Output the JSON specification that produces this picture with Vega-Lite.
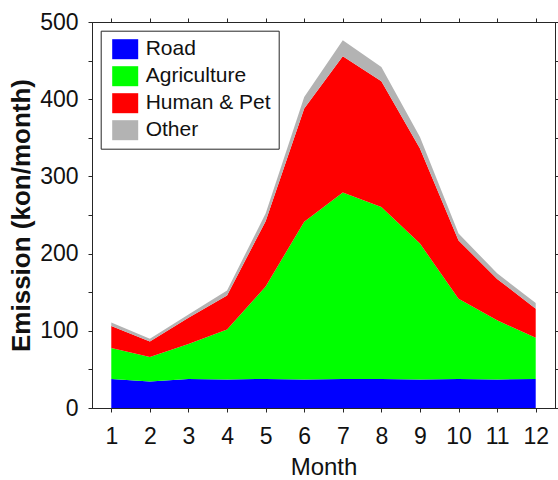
{
  "$schema": "https://vega.github.io/schema/vega-lite/v6.json",
  "width": 463,
  "height": 386,
  "autosize": {"type": "none"},
  "padding": {"left": 92, "top": 22, "right": 3, "bottom": 72},
  "background": "white",
  "data": {
    "values": [
      {"month": 1, "source": "Road", "k": 1, "value": 37.7},
      {"month": 2, "source": "Road", "k": 1, "value": 34.3},
      {"month": 3, "source": "Road", "k": 1, "value": 37.7},
      {"month": 4, "source": "Road", "k": 1, "value": 36.9},
      {"month": 5, "source": "Road", "k": 1, "value": 37.7},
      {"month": 6, "source": "Road", "k": 1, "value": 36.9},
      {"month": 7, "source": "Road", "k": 1, "value": 37.7},
      {"month": 8, "source": "Road", "k": 1, "value": 37.7},
      {"month": 9, "source": "Road", "k": 1, "value": 36.9},
      {"month": 10, "source": "Road", "k": 1, "value": 37.7},
      {"month": 11, "source": "Road", "k": 1, "value": 36.9},
      {"month": 12, "source": "Road", "k": 1, "value": 37.7},
      {"month": 1, "source": "Agriculture", "k": 2, "value": 39.9},
      {"month": 2, "source": "Agriculture", "k": 2, "value": 31.7},
      {"month": 3, "source": "Agriculture", "k": 2, "value": 45.1},
      {"month": 4, "source": "Agriculture", "k": 2, "value": 64.7},
      {"month": 5, "source": "Agriculture", "k": 2, "value": 119.7},
      {"month": 6, "source": "Agriculture", "k": 2, "value": 204.5},
      {"month": 7, "source": "Agriculture", "k": 2, "value": 241.6},
      {"month": 8, "source": "Agriculture", "k": 2, "value": 222.6},
      {"month": 9, "source": "Agriculture", "k": 2, "value": 176.2},
      {"month": 10, "source": "Agriculture", "k": 2, "value": 103.8},
      {"month": 11, "source": "Agriculture", "k": 2, "value": 76.7},
      {"month": 12, "source": "Agriculture", "k": 2, "value": 53.2},
      {"month": 1, "source": "Human & Pet", "k": 3, "value": 28.7},
      {"month": 2, "source": "Human & Pet", "k": 3, "value": 20.2},
      {"month": 3, "source": "Human & Pet", "k": 3, "value": 34.2},
      {"month": 4, "source": "Human & Pet", "k": 3, "value": 44.2},
      {"month": 5, "source": "Human & Pet", "k": 3, "value": 84.6},
      {"month": 6, "source": "Human & Pet", "k": 3, "value": 146.6},
      {"month": 7, "source": "Human & Pet", "k": 3, "value": 176.3},
      {"month": 8, "source": "Human & Pet", "k": 3, "value": 163.0},
      {"month": 9, "source": "Human & Pet", "k": 3, "value": 122.9},
      {"month": 10, "source": "Human & Pet", "k": 3, "value": 75.5},
      {"month": 11, "source": "Human & Pet", "k": 3, "value": 53.6},
      {"month": 12, "source": "Human & Pet", "k": 3, "value": 37.7},
      {"month": 1, "source": "Other", "k": 4, "value": 4.3},
      {"month": 2, "source": "Other", "k": 4, "value": 3.4},
      {"month": 3, "source": "Other", "k": 4, "value": 4.0},
      {"month": 4, "source": "Other", "k": 4, "value": 6.4},
      {"month": 5, "source": "Other", "k": 4, "value": 10.0},
      {"month": 6, "source": "Other", "k": 4, "value": 15.0},
      {"month": 7, "source": "Other", "k": 4, "value": 20.7},
      {"month": 8, "source": "Other", "k": 4, "value": 18.5},
      {"month": 9, "source": "Other", "k": 4, "value": 15.0},
      {"month": 10, "source": "Other", "k": 4, "value": 9.0},
      {"month": 11, "source": "Other", "k": 4, "value": 7.3},
      {"month": 12, "source": "Other", "k": 4, "value": 7.3}
    ]
  },
  "layer": [
    {
      "mark": {"type": "area", "interpolate": "linear", "opacity": 1},
      "encoding": {
        "x": {
          "field": "month",
          "type": "quantitative",
          "scale": {"domain": [0.5, 12.5], "nice": false, "zero": false},
          "axis": {
            "values": [1, 2, 3, 4, 5, 6, 7, 8, 9, 10, 11, 12],
            "title": "Month",
            "titleFontSize": 24,
            "labelPadding": 13,
            "titlePadding": 7,
            "labelFlush": false,
            "labelOverlap": false
          }
        },
        "y": {
          "field": "value",
          "type": "quantitative",
          "stack": "zero",
          "scale": {"domain": [0, 500], "nice": false},
          "axis": {
            "values": [0, 50, 100, 150, 200, 250, 300, 350, 400, 450, 500],
            "labelExpr": "datum.value % 100 == 0 ? datum.label : ''",
            "title": "Emission (kon/month)",
            "titleFontSize": 26,
            "titleFontWeight": "bold",
            "labelPadding": 10,
            "titlePadding": 5,
            "labelOverlap": false
          }
        },
        "color": {
          "field": "source",
          "type": "nominal",
          "scale": {
            "domain": ["Road", "Agriculture", "Human & Pet", "Other"],
            "range": ["#0000ff", "#00ff00", "#ff0000", "#b3b3b3"]
          },
          "legend": {
            "orient": "none",
            "legendX": 8.7,
            "legendY": 8.7,
            "title": null
          }
        },
        "order": {"field": "k", "type": "quantitative"}
      }
    },
    {
      "mark": {"type": "point", "opacity": 0},
      "encoding": {
        "x": {
          "field": "month",
          "type": "quantitative",
          "scale": {"domain": [0.5, 12.5], "nice": false, "zero": false},
          "axis": {
            "orient": "top",
            "values": [1, 2, 3, 4, 5, 6, 7, 8, 9, 10, 11, 12],
            "labels": false,
            "title": null
          }
        },
        "y": {
          "field": "value",
          "type": "quantitative",
          "scale": {"domain": [0, 500], "nice": false},
          "axis": {
            "orient": "right",
            "values": [0, 50, 100, 150, 200, 250, 300, 350, 400, 450, 500],
            "labels": false,
            "title": null
          }
        }
      }
    }
  ],
  "resolve": {"scale": {"x": "independent", "y": "independent"}},
  "config": {
    "view": {"stroke": "#262626", "strokeWidth": 1},
    "axis": {
      "grid": false,
      "domainColor": "#262626",
      "tickColor": "#262626",
      "labelColor": "#111111",
      "titleColor": "#111111",
      "labelFont": "Liberation Sans",
      "titleFont": "Liberation Sans",
      "labelFontSize": 23,
      "titleFontSize": 24,
      "titleFontWeight": "normal",
      "tickSize": 4,
      "domainWidth": 1,
      "tickWidth": 1
    },
    "legend": {
      "symbolType": "M-0.7,-1H1.9V1H-0.7Z",
      "symbolSize": 400,
      "symbolStrokeWidth": 0,
      "symbolOpacity": 1,
      "labelFont": "Liberation Sans",
      "labelFontSize": 21,
      "labelColor": "#111111",
      "labelOffset": 16,
      "padding": 8,
      "rowPadding": 5,
      "strokeColor": "#262626",
      "fillColor": "white"
    }
  }
}
